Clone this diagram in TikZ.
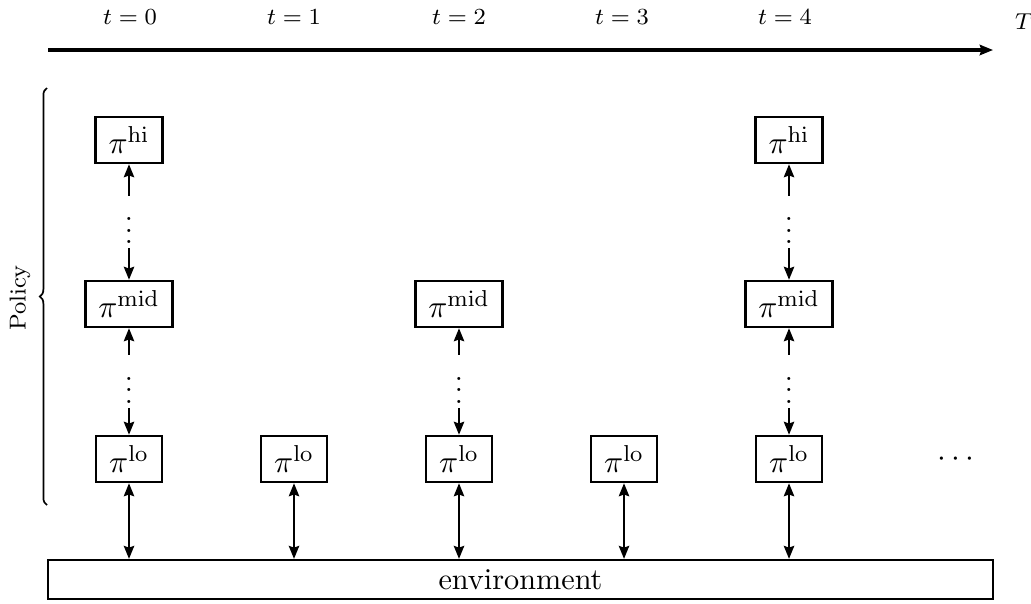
\documentclass[tikz,border=0pt]{standalone}
\usetikzlibrary{arrows.meta,decorations.pathreplacing}
\begin{document}
\begin{tikzpicture}[x=0.3472pt,y=-0.3472pt,
  pol/.style={draw,line width=0.85pt,minimum height=16pt,inner xsep=4.5pt,inner ysep=2pt,font=\fontsize{11}{13}\selectfont},
  conn/.style={line width=0.7pt,{Stealth[length=4.5pt,width=3.6pt,inset=0.6pt]}-{Stealth[length=4.5pt,width=3.6pt,inset=0.6pt]}},
  dotsnode/.style={fill=white,inner xsep=1pt,inner ysep=1.5pt,font=\fontsize{11}{13}\selectfont},
  lbl/.style={font=\footnotesize}]
\useasboundingbox (0,0) rectangle (1031,603);
% time axis
\coordinate (ax0) at (48,50);
\coordinate (ax1) at (993,50);
\draw[line width=1.1pt,-{Stealth[length=4.6pt,width=3.6pt,inset=0.6pt]}] (ax0) -- (ax1);
\node[lbl] (t0) at (130,17) {$t=0$};
\node[lbl] (t1) at (294,17) {$t=1$};
\node[lbl] (t2) at (459,17) {$t=2$};
\node[lbl] (t3) at (622,17) {$t=3$};
\node[lbl] (t4) at (785,17) {$t=4$};
\node[lbl] (T) at (1024,22) {$T$};
% policy brace
\coordinate (bb) at (47,505);
\coordinate (bt) at (47,88);
\draw[line width=0.6pt,decorate,decoration={brace,amplitude=2.5pt}] (bb) -- (bt);
\node[lbl,rotate=90] (policy) at (20,298) {Policy};
% policy nodes
\node[pol] (hi0) at (129,140) {$\pi^{\mathrm{hi}}$};
\node[pol] (hi4) at (789,140) {$\pi^{\mathrm{hi}}$};
\node[pol] (mid0) at (129,304) {$\pi^{\mathrm{mid}}$};
\node[pol] (mid2) at (459,304) {$\pi^{\mathrm{mid}}$};
\node[pol] (mid4) at (789,304) {$\pi^{\mathrm{mid}}$};
\node[pol] (lo0) at (129,459) {$\pi^{\mathrm{lo}}$};
\node[pol] (lo1) at (294,459) {$\pi^{\mathrm{lo}}$};
\node[pol] (lo2) at (459,459) {$\pi^{\mathrm{lo}}$};
\node[pol] (lo3) at (624,459) {$\pi^{\mathrm{lo}}$};
\node[pol] (lo4) at (789,459) {$\pi^{\mathrm{lo}}$};
\node[font=\fontsize{11}{13}\selectfont] (more) at (956,459) {$\cdots$};
% environment
\node[draw,line width=0.85pt,minimum width=328.1pt,minimum height=13.5pt,inner sep=0pt,font=\fontsize{10.5}{12}\selectfont] (env) at (520.5,579.5) {environment};
% connectors
\draw[conn] (hi0) -- node[dotsnode] (d0a) {$\vdots$} (mid0);
\draw[conn] (hi4) -- node[dotsnode] (d4a) {$\vdots$} (mid4);
\draw[conn] (mid0) -- node[dotsnode] (d0b) {$\vdots$} (lo0);
\draw[conn] (mid2) -- node[dotsnode] (d2b) {$\vdots$} (lo2);
\draw[conn] (mid4) -- node[dotsnode] (d4b) {$\vdots$} (lo4);
\foreach \i in {0,1,2,3,4}{
  \draw[conn] (lo\i) -- (lo\i |- env.north);
}
\end{tikzpicture}
\end{document}
